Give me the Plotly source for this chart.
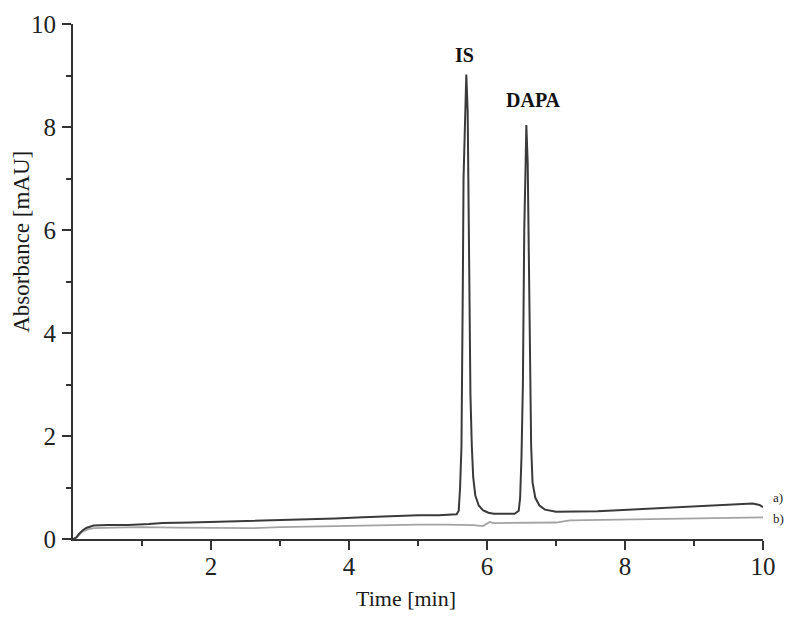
import plotly.graph_objects as go

# data
time_a = [0.00, 0.05, 0.10, 0.15, 0.20, 0.30, 0.50, 0.80, 1.10, 1.30,
          1.70, 2.00, 2.40, 2.70, 3.00, 3.40, 3.80, 4.20, 4.60, 5.00,
          5.30, 5.50, 5.56, 5.59, 5.61, 5.63, 5.64, 5.65, 5.66, 5.68,
          5.70, 5.72, 5.73, 5.74, 5.75, 5.76, 5.78, 5.80, 5.83, 5.88,
          5.94, 6.02, 6.10, 6.40, 6.46, 6.48, 6.50, 6.52, 6.53, 6.54,
          6.56, 6.57, 6.59, 6.60, 6.61, 6.62, 6.64, 6.66, 6.70, 6.76,
          6.84, 7.00, 7.30, 7.60, 7.90, 8.20, 8.50, 8.80, 9.10, 9.40,
          9.70, 9.85, 9.95, 10.00]
abs_a = [0.00, 0.03, 0.12, 0.18, 0.22, 0.26, 0.27, 0.27, 0.29, 0.31,
         0.32, 0.33, 0.34, 0.35, 0.36, 0.38, 0.40, 0.42, 0.44, 0.46,
         0.46, 0.47, 0.48, 0.55, 1.0, 1.8, 3.0, 5.0, 7.0, 8.3,
         9.02, 8.3, 7.0, 5.5, 4.0, 2.8, 1.8, 1.2, 0.85, 0.65,
         0.56, 0.51, 0.49, 0.49, 0.55, 0.8, 1.6, 3.0, 4.5, 6.0,
         7.3, 8.04, 7.3, 6.0, 4.5, 3.0, 1.8, 1.1, 0.8, 0.65,
         0.57, 0.53, 0.53, 0.54, 0.56, 0.58, 0.60, 0.62, 0.63, 0.65,
         0.67, 0.69, 0.66, 0.62]

time_b = [0.00, 0.05, 0.10, 0.15, 0.20, 0.30, 0.60, 1.00, 1.50, 2.00,
          2.60, 3.00, 3.40, 3.80, 4.20, 4.60, 5.00, 5.40, 5.80, 5.94,
          6.00, 6.04, 6.10, 6.50, 7.00, 7.20, 7.60, 8.00, 8.40, 8.80,
          9.20, 9.60, 10.00]
abs_b = [0.00, 0.03, 0.10, 0.15, 0.18, 0.21, 0.22, 0.23, 0.22, 0.21,
         0.21, 0.23, 0.24, 0.25, 0.27, 0.28, 0.28, 0.28, 0.27, 0.25,
         0.30, 0.33, 0.31, 0.31, 0.32, 0.36, 0.37, 0.38, 0.39, 0.40,
         0.41, 0.42, 0.42]

peak_names = ['IS', 'DAPA']
peak_x = [5.68, 6.67]
peak_y = [9.40, 8.53]

curve_names = ['a)', 'b)']
curve_y = [0.80, 0.39]

x_ticks = [2, 4, 6, 8, 10]
y_ticks = [0, 2, 4, 6, 8, 10]
minor_ticks = [1, 3, 5, 7, 9]

serif = 'Liberation Serif, Times New Roman, serif'

fig = go.Figure()
fig.add_trace(go.Scatter(
    x=time_b, y=abs_b, mode='lines', name='b)',
    line=dict(color='#a3a3a3', width=1.8)))
fig.add_trace(go.Scatter(
    x=time_a, y=abs_a, mode='lines', name='a)',
    line=dict(color='#3a3a3a', width=2)))

# подписи пиков
for name, px, py in zip(peak_names, peak_x, peak_y):
    fig.add_annotation(x=px, y=py, text='<b>%s</b>' % name, showarrow=False,
                       font=dict(family=serif, size=20, color='#111'))

# подписи кривых справа
for name, cy in zip(curve_names, curve_y):
    fig.add_annotation(xref='paper', yref='y', x=1.012, y=cy, text=name,
                       showarrow=False, xanchor='left', yanchor='middle',
                       font=dict(family=serif, size=13, color='#222'))

# заголовки осей
fig.add_annotation(xref='paper', yref='paper', x=-0.074, y=0.577,
                   xanchor='center', yanchor='middle',
                   text='Absorbance [mAU]', textangle=-90, showarrow=False,
                   font=dict(family=serif, size=23, color='#1a1a1a'))
fig.add_annotation(xref='paper', yref='paper', x=0.483, y=-0.115,
                   xanchor='center', yanchor='middle',
                   text='Time [min]', showarrow=False,
                   font=dict(family=serif, size=22, color='#1a1a1a'))

axis_style = dict(
    range=[0, 10], tickmode='array', automargin=False,
    ticks='outside', ticklen=9, tickwidth=2, tickcolor='#333',
    showline=True, linewidth=2, linecolor='#333',
    showgrid=False, zeroline=False,
    minor=dict(tickvals=minor_ticks, ticks='outside', ticklen=5,
               tickwidth=2, tickcolor='#333'),
    tickfont=dict(family=serif, size=25, color='#222'))

fig.update_layout(
    width=801, height=617,
    showlegend=False,
    plot_bgcolor='white',
    paper_bgcolor='white',
    margin=dict(l=65, r=46, t=16, b=86),
    xaxis=dict(axis_style, tickvals=x_ticks, ticklabelstandoff=-5),
    yaxis=dict(axis_style, tickvals=y_ticks, ticklabelstandoff=1))

fig.write_html('out.html')
